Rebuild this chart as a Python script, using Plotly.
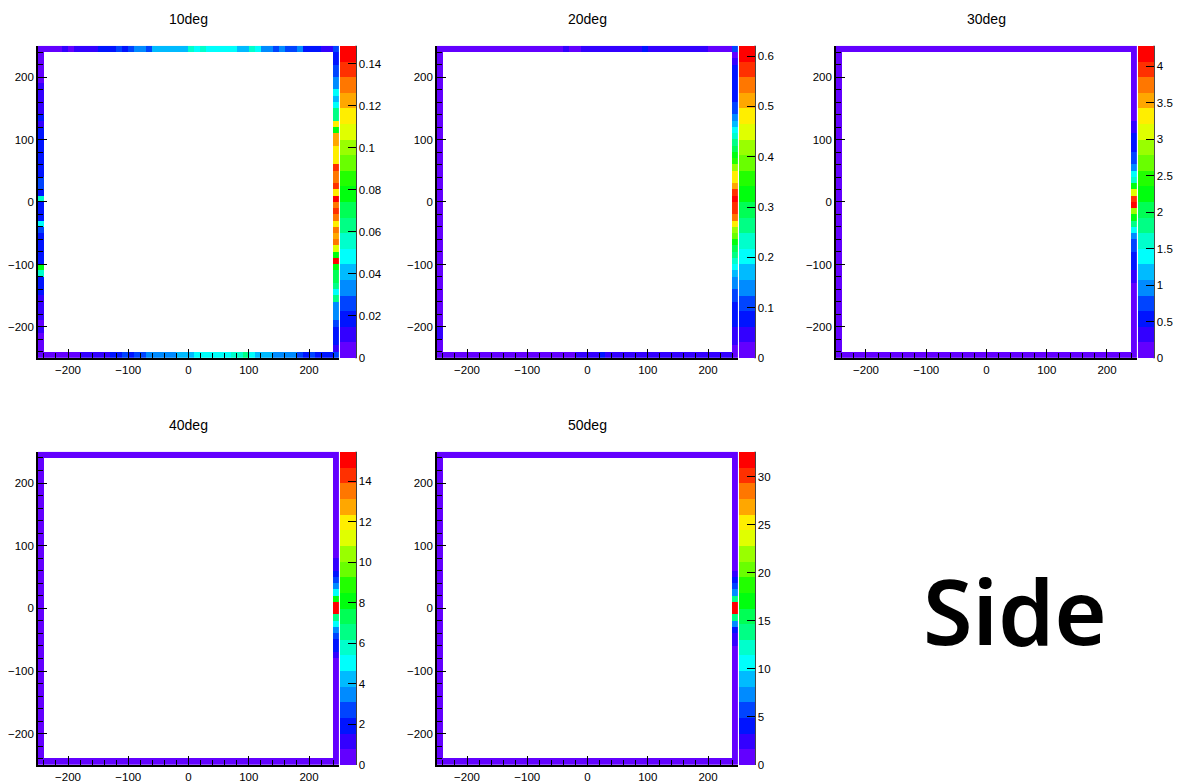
import colorsys
import plotly.graph_objects as go

# ---------------- data (cell contents of the detector border, 10-unit bins on [-250, 250]) ---------------
titles = ["10deg", "20deg", "30deg", "40deg", "50deg"]
side_label = "Side"

# 10deg
top10 = [0.004, 0.004, 0.005, 0.004, 0.011, 0.005, 0.011, 0.012, 0.010, 0.011,
         0.019, 0.018, 0.019, 0.026, 0.018, 0.027, 0.033, 0.034, 0.026, 0.041,
         0.040, 0.042, 0.041, 0.040, 0.041, 0.056, 0.048, 0.055, 0.048, 0.049,
         0.047, 0.048, 0.049, 0.041, 0.040, 0.056, 0.048, 0.033, 0.034, 0.026,
         0.033, 0.026, 0.027, 0.034, 0.019, 0.018, 0.019, 0.011, 0.012, 0.026]
bottom10 = [0.004, 0.003, 0.004, 0.005, 0.004, 0.005, 0.006, 0.011, 0.012, 0.010,
            0.011, 0.012, 0.019, 0.018, 0.026, 0.019, 0.027, 0.026, 0.033, 0.034,
            0.033, 0.035, 0.034, 0.041, 0.040, 0.042, 0.048, 0.049, 0.047, 0.048,
            0.050, 0.048, 0.056, 0.055, 0.063, 0.048, 0.041, 0.040, 0.042, 0.034,
            0.033, 0.035, 0.033, 0.026, 0.019, 0.027, 0.018, 0.019, 0.020, 0.026]
left10 = [0.004, 0.005, 0.004, 0.003, 0.005, 0.011, 0.010, 0.012, 0.011, 0.011,
          0.018, 0.012, 0.019, 0.018, 0.020, 0.019, 0.018, 0.020, 0.019, 0.018,
          0.026, 0.027, 0.019, 0.056, 0.018, 0.019, 0.020, 0.048, 0.026, 0.019,
          0.018, 0.019, 0.020, 0.019, 0.078, 0.055, 0.019, 0.018, 0.019, 0.011,
          0.012, 0.011, 0.010, 0.005, 0.011, 0.004, 0.004, 0.003]
right10 = [0.019, 0.018, 0.026, 0.027, 0.033, 0.034, 0.048, 0.041, 0.049, 0.063,
           0.064, 0.115, 0.078, 0.122, 0.123, 0.116, 0.114, 0.117, 0.137, 0.130,
           0.129, 0.136, 0.115, 0.1485, 0.131, 0.138, 0.129, 0.116, 0.130, 0.121,
           0.128, 0.107, 0.079, 0.145, 0.078, 0.071, 0.070, 0.063, 0.048, 0.062,
           0.033, 0.034, 0.032, 0.026, 0.019, 0.018, 0.019, 0.011]

# 20deg
top20 = [0.014, 0.016, 0.013, 0.015, 0.017, 0.014, 0.016, 0.018, 0.015, 0.017,
         0.019, 0.016, 0.018, 0.020, 0.017, 0.019, 0.021, 0.018, 0.020, 0.022,
         0.025, 0.034, 0.026, 0.028, 0.036, 0.040, 0.038, 0.043, 0.041, 0.045,
         0.042, 0.046, 0.039, 0.044, 0.068, 0.047, 0.043, 0.045, 0.041, 0.044,
         0.040, 0.042, 0.038, 0.036, 0.033, 0.027, 0.024, 0.022, 0.019, 0.108]
bottom20 = [0.012, 0.014, 0.013, 0.015, 0.014, 0.016, 0.015, 0.017, 0.016, 0.018,
            0.017, 0.019, 0.018, 0.020, 0.019, 0.021, 0.020, 0.022, 0.021, 0.023,
            0.024, 0.026, 0.028, 0.035, 0.038, 0.041, 0.044, 0.064, 0.046, 0.043,
            0.045, 0.042, 0.044, 0.041, 0.043, 0.040, 0.042, 0.039, 0.041, 0.038,
            0.040, 0.037, 0.039, 0.036, 0.038, 0.035, 0.036, 0.034, 0.033, 0.025]
left20 = [0.010, 0.011, 0.012, 0.010, 0.013, 0.012, 0.011, 0.013, 0.012, 0.014,
          0.013, 0.012, 0.014, 0.013, 0.015, 0.014, 0.013, 0.015, 0.014, 0.016,
          0.015, 0.014, 0.016, 0.015, 0.017, 0.016, 0.015, 0.017, 0.016, 0.018,
          0.017, 0.016, 0.018, 0.017, 0.019, 0.018, 0.017, 0.019, 0.020, 0.021,
          0.022, 0.023, 0.024, 0.026, 0.033, 0.035, 0.027, 0.024]
right20 = [0.020, 0.045, 0.075, 0.080, 0.079, 0.081, 0.077, 0.082, 0.105, 0.110,
           0.140, 0.170, 0.200, 0.235, 0.265, 0.290, 0.325, 0.355, 0.420, 0.478,
           0.485, 0.510, 0.575, 0.620, 0.570, 0.566, 0.540, 0.480, 0.415, 0.390,
           0.330, 0.300, 0.260, 0.230, 0.200, 0.170, 0.145, 0.135, 0.105, 0.100,
           0.075, 0.079, 0.080, 0.072, 0.050, 0.045, 0.040, 0.020]

# 30deg
top30 = [0.11, 0.12, 0.10, 0.13, 0.12, 0.11, 0.14, 0.12, 0.13, 0.12,
         0.14, 0.13, 0.12, 0.15, 0.13, 0.14, 0.13, 0.15, 0.14, 0.13,
         0.15, 0.14, 0.16, 0.14, 0.15, 0.16, 0.15, 0.14, 0.16, 0.15,
         0.14, 0.15, 0.13, 0.15, 0.14, 0.13, 0.14, 0.12, 0.13, 0.14,
         0.12, 0.13, 0.12, 0.11, 0.13, 0.12, 0.11, 0.12, 0.10, 0.12]
bottom30 = [0.10, 0.11, 0.12, 0.11, 0.13, 0.12, 0.13, 0.12, 0.14, 0.13,
            0.14, 0.13, 0.15, 0.14, 0.15, 0.14, 0.16, 0.15, 0.16, 0.15,
            0.17, 0.16, 0.17, 0.16, 0.18, 0.17, 0.18, 0.17, 0.16, 0.17,
            0.16, 0.15, 0.16, 0.15, 0.14, 0.15, 0.14, 0.13, 0.14, 0.13,
            0.12, 0.13, 0.12, 0.11, 0.12, 0.11, 0.10, 0.11, 0.10, 0.09]
left30 = [0.08, 0.09, 0.08, 0.10, 0.09, 0.10, 0.09, 0.11, 0.10, 0.11,
          0.10, 0.12, 0.11, 0.12, 0.11, 0.13, 0.12, 0.13, 0.12, 0.14,
          0.13, 0.14, 0.13, 0.14, 0.13, 0.14, 0.13, 0.12, 0.13, 0.12,
          0.13, 0.12, 0.11, 0.12, 0.11, 0.12, 0.11, 0.10, 0.11, 0.10,
          0.10, 0.09, 0.10, 0.09, 0.08, 0.09, 0.08, 0.08]
right30 = [0.15, 0.16, 0.15, 0.17, 0.16, 0.18, 0.17, 0.18, 0.19, 0.18, 0.20,
           0.32, 0.35, 0.52, 0.55, 0.58, 0.74, 0.78, 0.97, 1.40, 1.62, 2.25, 3.08,
           3.95, 4.28, 2.88, 2.22, 1.80, 1.38, 0.95, 0.78, 0.71, 0.56, 0.52, 0.47,
           0.33, 0.27,
           0.20, 0.19, 0.18, 0.19, 0.17, 0.18, 0.16, 0.17, 0.15, 0.16, 0.14]

# 40deg
top40 = [0.31, 0.33, 0.32, 0.35, 0.34, 0.36, 0.35, 0.38, 0.37, 0.39,
         0.38, 0.40, 0.39, 0.41, 0.40, 0.42, 0.41, 0.43, 0.42, 0.44,
         0.43, 0.45, 0.44, 0.46, 0.45, 0.46, 0.45, 0.44, 0.45, 0.43,
         0.44, 0.42, 0.43, 0.41, 0.42, 0.40, 0.41, 0.39, 0.40, 0.38,
         0.39, 0.37, 0.38, 0.36, 0.37, 0.35, 0.36, 0.34, 0.33, 0.35]
bottom40 = [0.36, 0.38, 0.37, 0.40, 0.39, 0.41, 0.40, 0.43, 0.42, 0.44,
            0.43, 0.45, 0.44, 0.46, 0.45, 0.47, 0.46, 0.48, 0.47, 0.49,
            0.48, 0.50, 0.49, 0.51, 0.50, 0.51, 0.50, 0.49, 0.50, 0.48,
            0.49, 0.47, 0.48, 0.46, 0.47, 0.45, 0.46, 0.44, 0.45, 0.43,
            0.44, 0.42, 0.43, 0.41, 0.42, 0.40, 0.41, 0.39, 0.38, 0.40]
left40 = [0.28, 0.29, 0.30, 0.29, 0.31, 0.30, 0.32, 0.31, 0.33, 0.32,
          0.34, 0.33, 0.35, 0.34, 0.36, 0.35, 0.37, 0.36, 0.38, 0.37,
          0.39, 0.38, 0.40, 0.39, 0.40, 0.39, 0.38, 0.39, 0.37, 0.38,
          0.36, 0.37, 0.35, 0.36, 0.34, 0.35, 0.33, 0.34, 0.32, 0.33,
          0.31, 0.32, 0.30, 0.31, 0.29, 0.30, 0.28, 0.29]
right40 = [0.45, 0.47, 0.46, 0.49, 0.48, 0.51, 0.50, 0.53, 0.52, 0.55, 0.54, 0.57,
           0.56, 0.59, 0.60, 0.65,
           1.2, 1.4, 1.9, 2.7, 3.5, 5.0, 8.1, 15.46, 15.1, 6.6, 5.1, 3.4, 2.6, 2.0,
           1.7, 1.1,
           0.66, 0.61, 0.59, 0.57, 0.58, 0.55, 0.56, 0.53, 0.54, 0.51, 0.52, 0.49,
           0.50, 0.47, 0.48, 0.46]

# 50deg
top50 = [0.72, 0.75, 0.74, 0.78, 0.77, 0.80, 0.79, 0.83, 0.82, 0.85,
         0.84, 0.87, 0.86, 0.89, 0.88, 0.91, 0.90, 0.93, 0.92, 0.95,
         0.94, 0.96, 0.95, 0.97, 0.96, 0.97, 0.96, 0.95, 0.96, 0.94,
         0.95, 0.93, 0.94, 0.92, 0.93, 0.91, 0.92, 0.90, 0.91, 0.89,
         0.90, 0.88, 0.89, 0.87, 0.86, 0.84, 0.85, 0.82, 0.80, 0.83]
bottom50 = [0.82, 0.85, 0.84, 0.88, 0.87, 0.90, 0.89, 0.93, 0.92, 0.95,
            0.94, 0.97, 0.96, 0.99, 0.98, 1.01, 1.00, 1.03, 1.02, 1.05,
            1.04, 1.06, 1.05, 1.07, 1.06, 1.07, 1.06, 1.05, 1.06, 1.04,
            1.05, 1.03, 1.04, 1.02, 1.03, 1.01, 1.02, 1.00, 1.01, 0.99,
            1.00, 0.98, 0.99, 0.97, 0.96, 0.94, 0.95, 0.92, 0.90, 0.93]
left50 = [0.62, 0.64, 0.63, 0.66, 0.65, 0.67, 0.66, 0.69, 0.68, 0.70,
          0.69, 0.72, 0.71, 0.73, 0.72, 0.75, 0.74, 0.76, 0.75, 0.78,
          0.77, 0.79, 0.78, 0.80, 0.79, 0.78, 0.79, 0.77, 0.78, 0.76,
          0.77, 0.75, 0.76, 0.74, 0.75, 0.73, 0.74, 0.72, 0.73, 0.71,
          0.70, 0.69, 0.68, 0.67, 0.66, 0.65, 0.64, 0.63]
right50 = [1.00, 1.02, 1.01, 1.04, 1.03, 1.06, 1.05, 1.08, 1.07, 1.10, 1.09, 1.12,
           1.11, 1.14, 1.13, 1.16, 1.18, 1.22,
           2.5, 3.9, 5.6, 7.2, 14.0, 32.6, 31.8, 13.6, 7.0, 4.0, 2.9, 2.2,
           1.24, 1.20, 1.17, 1.15, 1.16, 1.13, 1.14, 1.11, 1.12, 1.09, 1.10, 1.07,
           1.08, 1.05, 1.06, 1.03, 1.04, 1.02]

colorbar_dticks = [0.02, 0.1, 0.5, 2, 5]

# ---------------- styling / geometry ----------------
PAGE_MARGIN = 8            # default body margin of the html page
W, H = 1181 - PAGE_MARGIN, 783 - PAGE_MARGIN
NB = 50
NCONT = 20
FONT = "Liberation Sans, Arial, Helvetica, sans-serif"

# frame pixel boxes in window pixels (left, right, top, bottom)
frames = [(38, 340, 46, 360), (438, 740, 46, 360), (838, 1140, 46, 360),
          (38, 340, 454, 769), (438, 740, 454, 769)]
CB_W = 16


def root_palette():
    cols = []
    for k in range(NCONT):
        idx = int((k + 0.99) * 50 / NCONT)
        hue = 280 - (idx + 1) * 5.6
        r, g, b = colorsys.hls_to_rgb((hue % 360) / 360.0, 0.5, 1.0)
        cols.append("rgb(%d,%d,%d)" % (round(r * 255), round(g * 255), round(b * 255)))
    return cols


pal = root_palette()
cscale = []
for k, c in enumerate(pal):
    cscale.append([k / NCONT, c])
    cscale.append([(k + 1) / NCONT, c])


def grid(top, bottom, left, right):
    z = [[None] * NB for _ in range(NB)]
    for i in range(NB):
        z[NB - 1][i] = top[i]
        z[0][i] = bottom[i]
    for j in range(1, NB - 1):
        row = NB - 1 - j
        z[row][0] = left[j - 1]
        z[row][NB - 1] = right[j - 1]
    return z


sides = [(top10, bottom10, left10, right10),
         (top20, bottom20, left20, right20),
         (top30, bottom30, left30, right30),
         (top40, bottom40, left40, right40),
         (top50, bottom50, left50, right50)]

fig = go.Figure()
layout = dict(width=W, height=H, margin=dict(l=0, r=0, t=0, b=0), autosize=False,
              paper_bgcolor="white", plot_bgcolor="white", showlegend=False,
              annotations=[], shapes=[])


def px_x(p):
    return (p - PAGE_MARGIN) / W


def px_y(p):
    return 1 - (p - PAGE_MARGIN) / H


for n, (sd, fr, dt, title) in enumerate(zip(sides, frames, colorbar_dticks, titles)):
    k = n + 1
    xs = "x" if k == 1 else "x%d" % k
    ys = "y" if k == 1 else "y%d" % k
    l, r, t, b = fr
    z = grid(*sd)
    zmax = max(max(s) for s in sd)
    fig.add_trace(go.Heatmap(
        z=z, x0=-245, dx=10, y0=-245, dy=10, xaxis=xs, yaxis=ys,
        zmin=0, zmax=zmax, colorscale=cscale, hoverongaps=False,
        colorbar=dict(
            x=px_x(r + 1), xanchor="left", xpad=0, ypad=0,
            y=px_y((t + b) / 2), yanchor="middle",
            len=(b - t) / H, lenmode="fraction",
            thickness=CB_W, thicknessmode="pixels",
            outlinewidth=0, ticks="inside", ticklen=8, tickwidth=1.2,
            tickcolor="black", tick0=0, dtick=dt,
            tickfont=dict(family=FONT, size=11.5, color="black"),
        ),
    ))
    axc = dict(range=[-250, 250], showgrid=False, zeroline=False, showline=True,
               linecolor="black", linewidth=1.5, mirror=False, ticks="inside",
               ticklen=9, tickwidth=1.2, tickcolor="black", tick0=0, dtick=100,
               minor=dict(ticks="inside", tick0=0, dtick=20, ticklen=5, tickwidth=1,
                          tickcolor="black"),
               tickfont=dict(family=FONT, size=11.5, color="black"), fixedrange=True)
    xkey = "xaxis" if k == 1 else "xaxis%d" % k
    ykey = "yaxis" if k == 1 else "yaxis%d" % k
    layout[xkey] = dict(axc, domain=[px_x(l), px_x(r)], anchor=ys)
    layout[ykey] = dict(axc, domain=[px_y(b), px_y(t)], anchor=xs)
    # palette axis line on the right edge of the colour bar
    layout["shapes"].append(dict(type="line", xref="paper", yref="paper",
                                 x0=px_x(r + 1 + CB_W), x1=px_x(r + 1 + CB_W),
                                 y0=px_y(b), y1=px_y(t),
                                 line=dict(color="black", width=1.3)))
    layout["annotations"].append(dict(
        text=title, xref="paper", yref="paper", x=px_x((l + r) / 2), y=px_y(t - 27),
        xanchor="center", yanchor="middle", showarrow=False,
        font=dict(family=FONT, size=14, color="black")))

layout["annotations"].append(dict(
    text=side_label, xref="paper", yref="paper", x=px_x(1018), y=px_y(613),
    xanchor="center", yanchor="middle", showarrow=False,
    font=dict(family="Noto Sans, sans-serif", size=90, color="black", weight=600)))

fig.update_layout(**layout)
fig.write_html("out.html")
